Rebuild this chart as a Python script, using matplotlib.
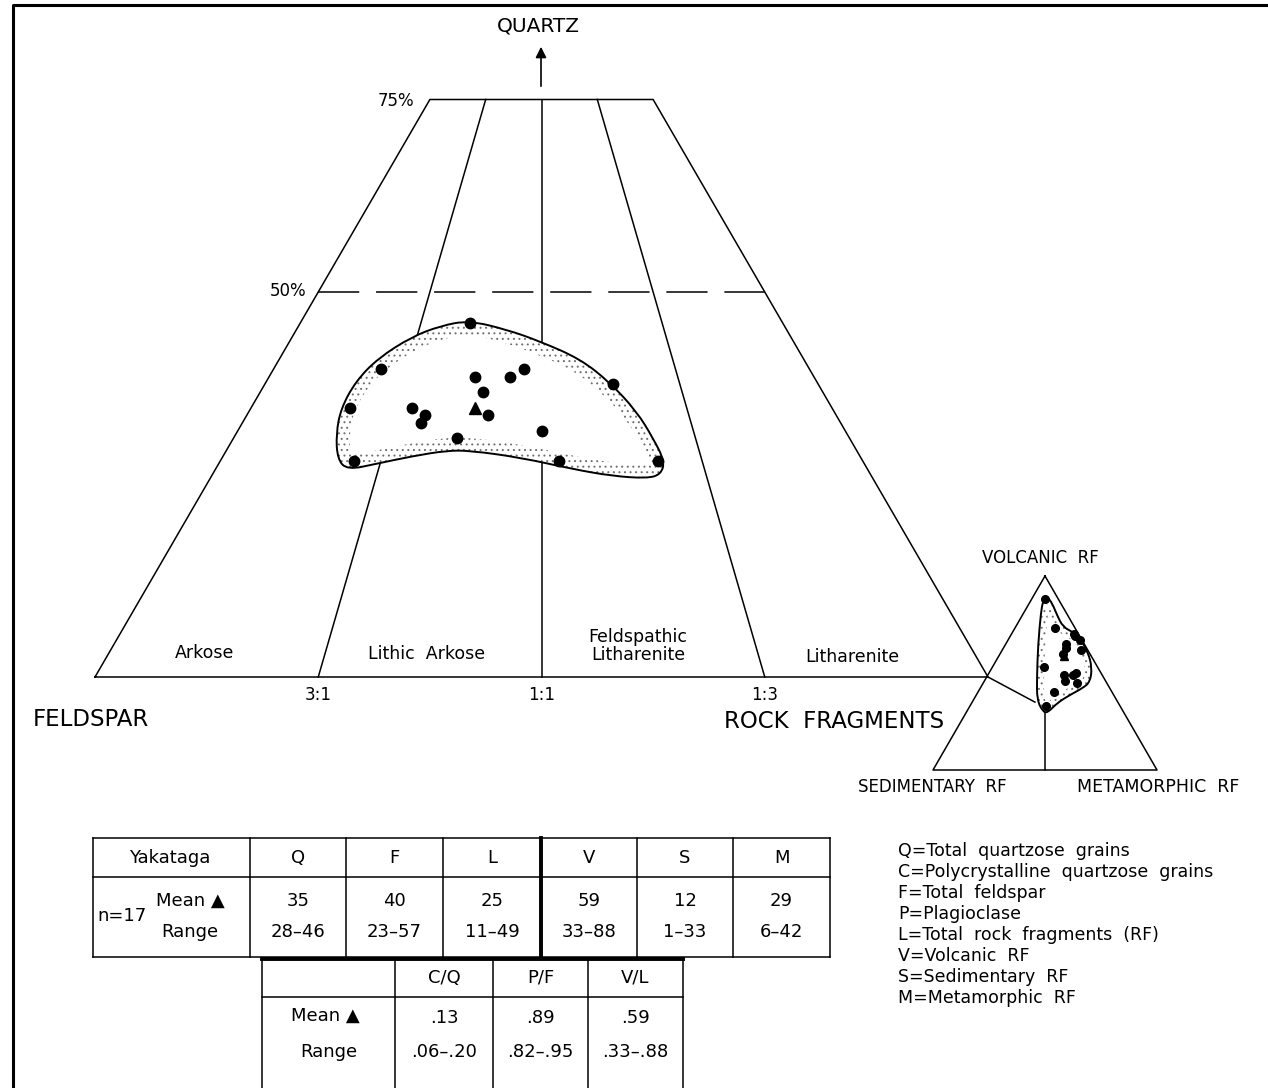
import numpy as np
import matplotlib
matplotlib.use("Agg")
import matplotlib.pyplot as plt
from matplotlib.path import Path
from matplotlib.patches import PathPatch, Polygon

plt.rcParams['font.family'] = ['DejaVu Sans']
plt.rcParams['hatch.linewidth'] = 0.7

# Q-F-L composition of the 17 Yakataga samples (percent)
q_pts = [46, 40, 35, 28, 35, 34, 33, 39, 37, 34, 39, 40, 31, 32, 28, 38, 28]
f_pts = [35, 48, 54, 57, 47, 46, 47, 38, 38, 39, 34, 32, 44, 34, 34, 23, 23]
l_pts = [19, 12, 11, 15, 18, 20, 20, 23, 25, 27, 27, 28, 25, 34, 38, 39, 49]
qfl_mean = [35, 40, 25]

# V-S-M composition of the rock fragments (percent)
v_pts = [88, 73, 70, 67, 62, 65, 60, 63, 69, 53, 49, 46, 49, 50, 45, 40, 33]
s_pts = [6, 9, 2, 1, 3, 8, 12, 9, 2, 24, 17, 18, 13, 11, 13, 26, 33]
m_pts = [6, 18, 28, 32, 35, 27, 28, 28, 29, 23, 34, 36, 38, 39, 42, 34, 34]
vsm_mean = [59, 12, 29]

# field outline around the QFL samples
env_q = [46.3, 45.1, 43.6, 41.3, 38.2, 34.5, 31.0, 28.0, 26.3, 25.8, 26.1, 27.0, 28.5,
         29.4, 29.4, 28.7, 27.7, 26.9, 28.3, 31.6, 34.9, 38.4, 41.4, 44.2, 45.6]
env_l = [18.7, 23.6, 28.0, 33.7, 38.6, 43.4, 47.0, 49.8, 50.2, 48.9, 44.9, 40.0, 33.4,
         27.3, 24.7, 21.3, 17.7, 14.8, 13.0, 11.2, 10.1, 10.0, 11.0, 13.4, 15.9]
env_f = [100 - a - b for a, b in zip(env_q, env_l)]

# field outline around the VSM samples
env_v = [89.5, 86.1, 79.9, 73.7, 71.1, 68.0, 60.8, 52.6, 45.4, 42.3, 38.7, 34.5, 29.4,
         30.2, 36.1, 47.4, 64.4, 81.4, 87.0]
env_m = [6.1, 10.1, 15.4, 21.2, 26.9, 31.5, 38.8, 44.7, 47.4, 45.8, 41.8, 38.1, 36.4,
         33.9, 28.4, 22.7, 14.7, 7.5, 5.6]
env_s = [100 - a - b for a, b in zip(env_v, env_m)]

# F:L ratio lines (fraction of L in F+L)
ratio_l = [0.25, 0.5, 0.75]
ratio_labels = ['3:1', '1:1', '1:3']
fields = ['Arkose', 'Lithic  Arkose', 'Feldspathic\nLitharenite', 'Litharenite']

# tables
t1_head = ['Q', 'F', 'L', 'V', 'S', 'M']
t1_mean = ['35', '40', '25', '59', '12', '29']
t1_range = ['28–46', '23–57', '11–49', '33–88', '1–33', '6–42']
t2_head = ['C/Q', 'P/F', 'V/L']
t2_mean = ['.13', '.89', '.59']
t2_range = ['.06–.20', '.82–.95', '.33–.88']

legend_lines = ['Q=Total  quartzose  grains',
                'C=Polycrystalline  quartzose  grains',
                'F=Total  feldspar',
                'P=Plagioclase',
                'L=Total  rock  fragments  (RF)',
                'V=Volcanic  RF',
                'S=Sedimentary  RF',
                'M=Metamorphic  RF']

fig = plt.figure(figsize=(12.68, 10.88), dpi=100)
ax = fig.add_axes([0, 0, 1, 1])
ax.set_xlim(0, 1268)
ax.set_ylim(1088, 0)
ax.axis('off')

# triangle corners on the page
QFL = (np.array([541.5, 677 - 770.]), np.array([95., 677.]), np.array([988., 677.]))
VSM = (np.array([1045., 576.]), np.array([933., 770.]), np.array([1157., 770.]))


def tern(top, left, right, corners):
    t, a, b = corners
    top = np.asarray(top, float) / 100
    left = np.asarray(left, float) / 100
    right = np.asarray(right, float) / 100
    x = top * t[0] + left * a[0] + right * b[0]
    y = top * t[1] + left * a[1] + right * b[1]
    return x, y


def envelope(xy, band, z=2):
    pts = np.column_stack(xy)
    mids = (pts + np.roll(pts, -1, axis=0)) / 2
    verts = [mids[-1]]
    codes = [Path.MOVETO]
    for p, m in zip(pts, mids):
        verts += [p, m]
        codes += [Path.CURVE3, Path.CURVE3]
    path = Path(verts, codes)
    ax.add_patch(PathPatch(path, facecolor='white', edgecolor='#707070', hatch='...',
                           lw=0, zorder=z))
    poly = path.to_polygons()[0][:-1]
    d = np.roll(poly, -1, axis=0) - np.roll(poly, 1, axis=0)
    nrm = np.column_stack([d[:, 1], -d[:, 0]])
    nrm /= np.maximum(np.linalg.norm(nrm, axis=1), 1e-9)[:, None]
    area = 0.5 * np.sum(poly[:, 0] * np.roll(poly[:, 1], -1) - np.roll(poly[:, 0], -1) * poly[:, 1])
    inner = poly - np.sign(area) * band * nrm
    ax.add_patch(Polygon(inner, closed=True, facecolor='white', edgecolor='none', zorder=z + 0.1))
    ax.add_patch(PathPatch(path, facecolor='none', edgecolor='black', lw=1.4, zorder=z + 0.2))


lw = 1.1
# main (truncated) QFL triangle
x, y = tern([0, 75, 75, 0], [100, 25, 0, 0], [0, 0, 25, 100], QFL)
ax.plot(list(x) + [x[0]], list(y) + [y[0]], color='black', lw=lw, zorder=1)
for r in ratio_l:
    x, y = tern([0, 75], [100 * (1 - r), 25 * (1 - r)], [100 * r, 25 * r], QFL)
    ax.plot(x, y, color='black', lw=lw, zorder=1)
x, y = tern([50, 50], [50, 0], [0, 50], QFL)
ax.plot(x, y, color='black', lw=1.1, ls=(0, (27, 11)), zorder=1)

# quartz arrow
ax.annotate('', xy=(541, 44), xytext=(541, 89),
            arrowprops=dict(arrowstyle='-|>', color='black', lw=1.2, mutation_scale=16))
ax.text(538, 26, 'QUARTZ', fontsize=14.5, ha='center', va='center')
ax.text(414, 101, '75%', fontsize=12, ha='right', va='center')
ax.text(306, 291, '50%', fontsize=12, ha='right', va='center')

for r, lab in zip(ratio_l, ratio_labels):
    x, y = tern(0, 100 * (1 - r), 100 * r, QFL)
    ax.text(x, y + 18, lab, fontsize=12, ha='center', va='center')

field_x = [205, 427, 638, 852]
field_y = [653, 654, 646, 657]
for fx, fy, lab in zip(field_x, field_y, fields):
    ax.text(fx, fy, lab, fontsize=12.5, ha='center', va='center', linespacing=1.05)

ax.text(33, 719, 'FELDSPAR', fontsize=16.5, ha='left', va='center')
ax.text(724, 722, 'ROCK  FRAGMENTS', fontsize=16.5, ha='left', va='center')

# QFL field and samples
envelope(tern(env_q, env_f, env_l, QFL), 13)
x, y = tern(q_pts, f_pts, l_pts, QFL)
ax.plot(x, y, 'o', color='black', ms=7.5, ls='none', zorder=5)
x, y = tern(*qfl_mean, QFL)
ax.plot(x, y, '^', color='black', ms=8, zorder=5)

# VSM triangle
x, y = tern([100, 0, 0], [0, 100, 0], [0, 0, 100], VSM)
ax.plot(list(x) + [x[0]], list(y) + [y[0]], color='black', lw=lw, zorder=1)
x, y = tern([0, 30], [50, 35], [50, 35], VSM)
ax.plot(x, y, color='black', lw=lw, zorder=1)
# main base line runs to the rock fragment pole, joined to the VSM field
lx, ly = QFL[2]
x, y = tern(35, 37, 28, VSM)
ax.plot([lx, x], [ly, y], color='black', lw=lw, zorder=1)

envelope(tern(env_v, env_s, env_m, VSM), 7)
x, y = tern(v_pts, s_pts, m_pts, VSM)
ax.plot(x, y, 'o', color='black', ms=5.5, ls='none', zorder=5)
x, y = tern(*vsm_mean, VSM)
ax.plot(x, y, '^', color='black', ms=6, zorder=5)

ax.text(1040, 558, 'VOLCANIC  RF', fontsize=12, ha='center', va='center')
ax.text(932, 787, 'SEDIMENTARY  RF', fontsize=12, ha='center', va='center')
ax.text(1158, 787, 'METAMORPHIC  RF', fontsize=12.5, ha='center', va='center')

# table 1
tl = 1.1
col1 = [93, 250, 346, 443, 541, 637, 733, 830]
for yy in [838, 877, 957]:
    ax.plot([93, 830], [yy, yy], color='black', lw=tl)
for xx in col1:
    ax.plot([xx, xx], [838, 957], color='black', lw=2.8 if xx == 541 else tl)
ax.text(170, 858, 'Yakataga', fontsize=13, ha='center', va='center')
ax.text(97, 916, 'n=17', fontsize=13, ha='left', va='center')
ax.text(190, 901, 'Mean ▲', fontsize=13, ha='center', va='center')
ax.text(190, 932, 'Range', fontsize=13, ha='center', va='center')
for i, (h, m, r) in enumerate(zip(t1_head, t1_mean, t1_range)):
    cx = (col1[i + 1] + col1[i + 2]) / 2
    ax.text(cx, 858, h, fontsize=13, ha='center', va='center')
    ax.text(cx, 901, m, fontsize=13, ha='center', va='center')
    ax.text(cx, 932, r, fontsize=13, ha='center', va='center')

# table 2
col2 = [262, 395, 493, 588, 683]
ax.plot([262, 683], [959, 959], color='black', lw=2.8)
ax.plot([262, 683], [997, 997], color='black', lw=tl)
for xx in col2:
    ax.plot([xx, xx], [959, 1088], color='black', lw=tl)
ax.text(325, 1016, 'Mean ▲', fontsize=13, ha='center', va='center')
ax.text(329, 1052, 'Range', fontsize=13, ha='center', va='center')
for i, (h, m, r) in enumerate(zip(t2_head, t2_mean, t2_range)):
    cx = (col2[i + 1] + col2[i + 2]) / 2
    ax.text(cx, 978, h, fontsize=13, ha='center', va='center')
    ax.text(cx, 1018, m, fontsize=13, ha='center', va='center')
    ax.text(cx, 1052, r, fontsize=13, ha='center', va='center')

# abbreviations
for i, line in enumerate(legend_lines):
    ax.text(898, 851 + 21 * i, line, fontsize=12.5, ha='left', va='center')

# page frame
ax.plot([13, 13, 1268], [1088, 5, 5], color='black', lw=2.2)

fig.savefig('out.png', dpi=100)
